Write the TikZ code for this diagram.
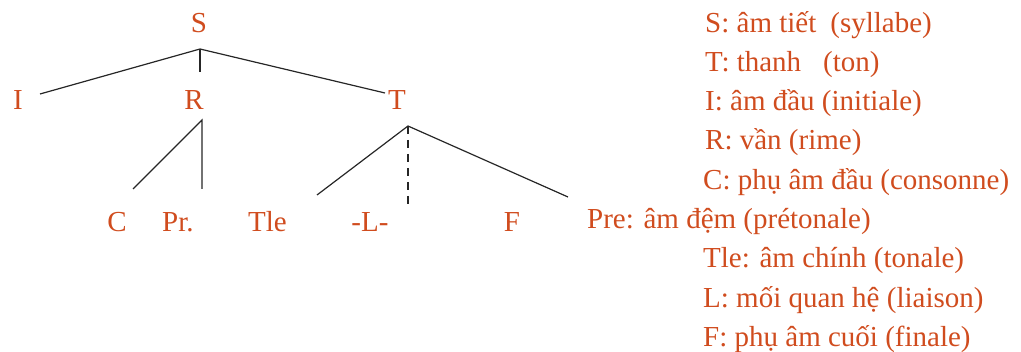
\documentclass[tikz,border=0pt]{standalone}
\usepackage{fontspec}
\setmainfont{Liberation Serif}
\definecolor{lbl}{RGB}{208,76,30}
\begin{document}
\begin{tikzpicture}[x=1pt,y=-1pt,
  lab/.style={text=lbl, font=\fontsize{29}{29}\selectfont, inner sep=0pt, anchor=base},
  leg/.style={lab, anchor=base west},
  edge/.style={line width=1.2pt, black!85},
  dashedge/.style={edge, dash pattern=on 8pt off 6pt}]
\useasboundingbox (0,0) rectangle (1021,352);
% tree labels
\node[lab] (S) at (199,33) {S};
\node[lab] (I) at (18,110) {I};
\node[lab] (R) at (194,110) {R};
\node[lab] (T) at (397,110) {T};
\node[lab] (C) at (117,232) {C};
\node[lab, anchor=base west] (Pr) at (162,232) {Pr.};
\node[lab, anchor=base west] (Tle) at (248,232) {Tle};
\node[lab] (L) at (370,232) {-L-};
\node[lab] (F) at (512,232) {F};
% connector points
\coordinate (Sa) at (200,49);
\coordinate (Rs) at (200,72);
\coordinate (Ie) at (40,94);
\coordinate (Te) at (385,93);
\coordinate (Ra) at (202,120);
\coordinate (Ce) at (133,189);
\coordinate (Pe) at (202,189);
\coordinate (Ta) at (408,126);
\coordinate (Le) at (317,195);
\coordinate (Fe) at (568,197);
\coordinate (De) at (408,208);
\draw[edge] (Ie) -- (Sa) -- (Te);
\draw[edge] (Sa) -- (Rs);
\draw[edge] (Ce) -- (Ra) -- (Pe);
\draw[edge] (Le) -- (Ta) -- (Fe);
\draw[dashedge] (Ta) -- (De);
% legend
\node[leg] (l1) at (705,33) {S: âm tiết\hspace{14pt}(syllabe)};
\node[leg] (l2) at (705,72) {T: thanh\hspace{22pt}(ton)};
\node[leg] (l3) at (705,111) {I: âm đầu (initiale)};
\node[leg] (l4) at (705,150) {R: vần (rime)};
\node[leg] (l5) at (703,190) {C: phụ âm đầu (consonne)};
\node[leg] (l6) at (587,229) {Pre: âm đệm (prétonale)};
\node[leg] (l7) at (703,268) {Tle: âm chính (tonale)};
\node[leg] (l8) at (703,308) {L: mối quan hệ (liaison)};
\node[leg] (l9) at (703,347) {F: phụ âm cuối (finale)};
\end{tikzpicture}
\end{document}
